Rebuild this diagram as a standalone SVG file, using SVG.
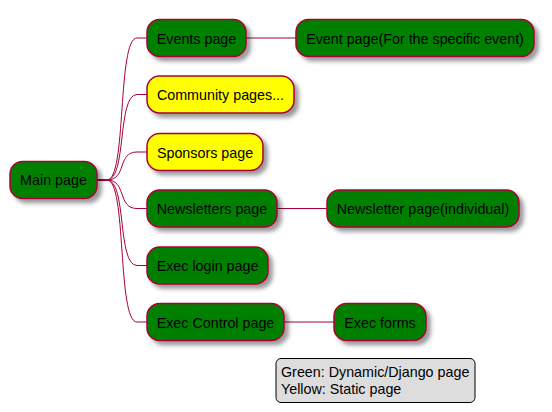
<svg xmlns="http://www.w3.org/2000/svg" width="552" height="412" viewBox="0 0 552 412">
<defs>
<filter id="sh" x="-10%" y="-20%" width="130%" height="160%">
<feGaussianBlur in="SourceAlpha" stdDeviation="2" result="b"/>
<feColorMatrix in="b" type="matrix" values="0 0 0 0 0  0 0 0 0 0  0 0 0 0 0  0 0 0 0.4 0" result="c"/>
<feOffset in="c" dx="4" dy="4" result="o"/>
<feBlend in="SourceGraphic" in2="o" mode="normal"/>
</filter>
</defs>
<style>
.n rect{stroke:#A80036;stroke-width:1.5;filter:url(#sh)}
.g rect{fill:#008000}
.y rect{fill:#FFFF00}
text{font-family:"Liberation Sans",Arial,sans-serif;font-size:14.3px;fill:#000}
.n text{text-anchor:middle}
#connectors path{fill:none;stroke:#A80036;stroke-width:1}
</style>
<g id="connectors">
<path d="M97,180 L107,180 C127,180 117,38 137,38 L147,38"/>
<path d="M97,180 L107,180 C127,180 117,94.5 137,94.5 L147,94.5"/>
<path d="M97,180 L107,180 C127,180 117,152 137,152 L147,152"/>
<path d="M97,180 L107,180 C127,180 117,208.5 137,208.5 L147,208.5"/>
<path d="M97,180 L107,180 C127,180 117,265.5 137,265.5 L147,265.5"/>
<path d="M97,180 L107,180 C127,180 117,322 137,322 L147,322"/>
<path d="M246,38 L296,38"/>
<path d="M277,208.5 L327,208.5"/>
<path d="M284,322 L334,322"/>
</g>
<g id="main" class="n g"><rect x="10" y="161.5" width="87" height="37" rx="12.5"/><text x="53.5" y="185">Main page</text></g>
<g id="events" class="n g"><rect x="147" y="19.5" width="99" height="37" rx="12.5"/><text x="196.5" y="43.5">Events page</text></g>
<g id="community" class="n y"><rect x="147" y="76" width="147" height="37" rx="12.5"/><text x="220.5" y="100">Community pages...</text></g>
<g id="sponsors" class="n y"><rect x="147" y="133.5" width="116" height="37" rx="12.5"/><text x="205" y="157.5">Sponsors page</text></g>
<g id="newsletters" class="n g"><rect x="147" y="190" width="130" height="37" rx="12.5"/><text x="212" y="214">Newsletters page</text></g>
<g id="execlogin" class="n g"><rect x="147" y="247" width="121" height="37" rx="12.5"/><text x="207.5" y="271">Exec login page</text></g>
<g id="execcontrol" class="n g"><rect x="147" y="303.5" width="137" height="37" rx="12.5"/><text x="215.5" y="327.5">Exec Control page</text></g>
<g id="eventpage" class="n g"><rect x="296" y="19.5" width="238" height="37" rx="12.5"/><text x="415" y="43.5">Event page(For the specific event)</text></g>
<g id="newsletterpage" class="n g"><rect x="327" y="190" width="192" height="37" rx="12.5"/><text x="423" y="214">Newsletter page(individual)</text></g>
<g id="execforms" class="n g"><rect x="334" y="303.5" width="92" height="37" rx="12.5"/><text x="380" y="327.5">Exec forms</text></g>
<g id="legend"><rect x="276" y="358.5" width="199" height="44" rx="5" fill="#DDDDDD" stroke="#000" stroke-width="1"/><text x="281" y="377">Green: Dynamic/Django page</text><text x="281" y="393.5">Yellow: Static page</text></g>
</svg>
